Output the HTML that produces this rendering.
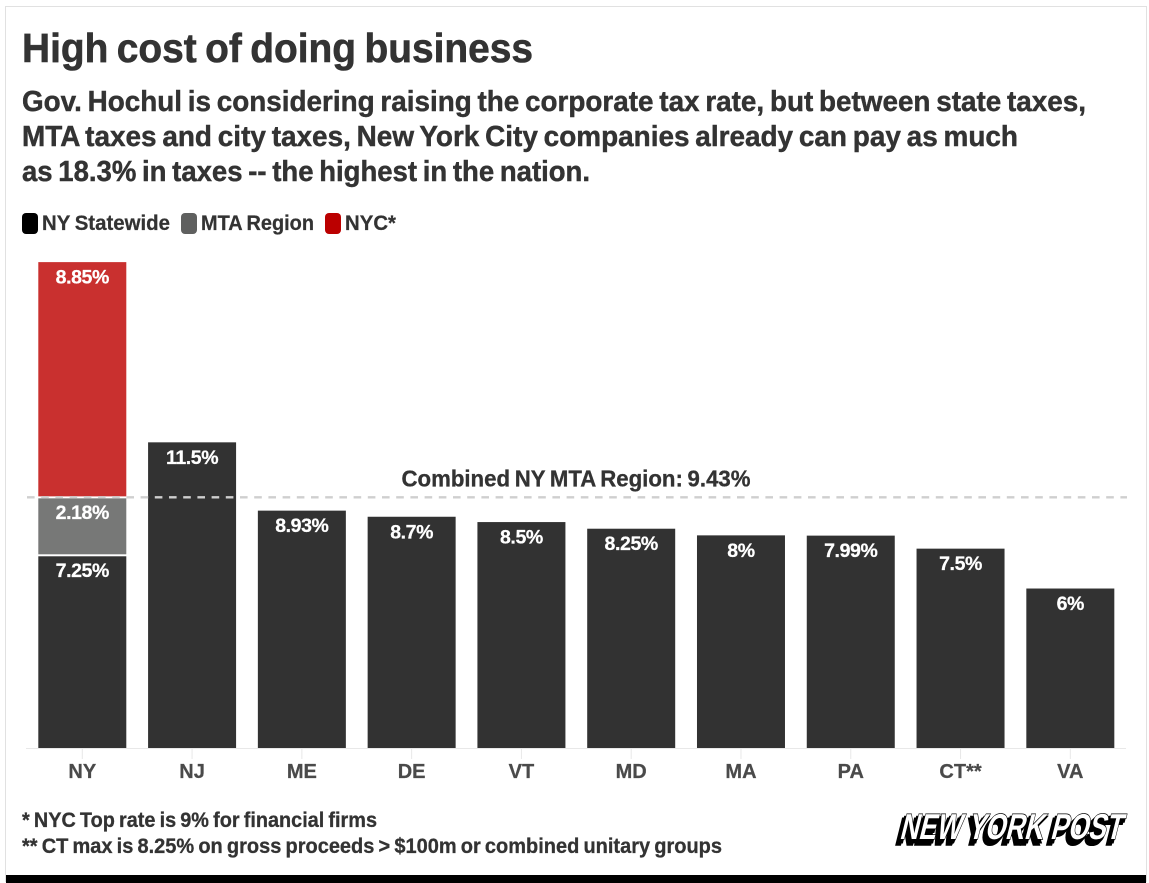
<!DOCTYPE html>
<html lang="en">
<head>
<meta charset="utf-8">
<title>High cost of doing business</title>
<style>
html,body{margin:0;padding:0;background:#fff}
body{width:1149px;height:883px;overflow:hidden;position:relative;font-family:"Liberation Sans",Arial,sans-serif}
svg{position:absolute;left:0;top:0;display:block}
text{font-family:"Liberation Sans",Arial,sans-serif;font-weight:700}
</style>
</head>
<body>
<svg id="chart" width="1149" height="883" viewBox="0 0 1149 883" xmlns="http://www.w3.org/2000/svg">
  <rect x="5.5" y="6.5" width="1141" height="875" fill="#fff" stroke="#e1e1e1"/>
  <rect x="6" y="875" width="1140" height="8" fill="#000"/>

  <text x="22" y="62" font-size="41" fill="#333" stroke="#333" stroke-width="0.6" word-spacing="-2.5" textLength="511" lengthAdjust="spacingAndGlyphs">High cost of doing business</text>
  <text x="22" y="111" font-size="28.5" fill="#333" stroke="#333" stroke-width="0.45" word-spacing="-2" textLength="1064" lengthAdjust="spacingAndGlyphs">Gov. Hochul is considering raising the corporate tax rate, but between state taxes,</text>
  <text x="22" y="146" font-size="28.5" fill="#333" stroke="#333" stroke-width="0.45" word-spacing="-2" textLength="996" lengthAdjust="spacingAndGlyphs">MTA taxes and city taxes, New York City companies already can pay as much</text>
  <text x="22" y="181" font-size="28.5" fill="#333" stroke="#333" stroke-width="0.45" word-spacing="-2" textLength="568" lengthAdjust="spacingAndGlyphs">as 18.3% in taxes -- the highest in the nation.</text>

  <g id="legend"></g>
  <g id="marks"></g>
  <g id="axis"></g>
  <g id="reference"></g>

  <text x="22" y="827" font-size="21.5" fill="#333" stroke="#333" stroke-width="0.3" word-spacing="-1.5" textLength="355" lengthAdjust="spacingAndGlyphs">* NYC Top rate is 9% for financial firms</text>
  <text x="22" y="853" font-size="21.5" fill="#333" stroke="#333" stroke-width="0.3" word-spacing="-1.5" textLength="700" lengthAdjust="spacingAndGlyphs">** CT max is 8.25% on gross proceeds &gt; $100m or combined unitary groups</text>

  <g>
    <text transform="translate(895,844) skewX(-14)" font-size="36" fill="#000" stroke="#000" stroke-width="3.4" textLength="222" lengthAdjust="spacingAndGlyphs">NEW YORK POST</text>
    <text transform="translate(897,842) skewX(-14)" font-size="36" fill="#000" stroke="#000" stroke-width="3" textLength="222" lengthAdjust="spacingAndGlyphs">NEW YORK POST</text>
    <text transform="translate(899,839) skewX(-14)" font-size="36" fill="#fff" stroke="#000" stroke-width="1.4" paint-order="stroke" textLength="222" lengthAdjust="spacingAndGlyphs">NEW YORK POST</text>
  </g>
</svg>
<script>
var categories = ['NY','NJ','ME','DE','VT','MD','MA','PA','CT**','VA'];
var statewide = [7.25,11.5,8.93,8.7,8.5,8.25,8,7.99,7.5,6];
var mtaRegion = [2.18,0,0,0,0,0,0,0,0,0];
var nyc = [8.85,0,0,0,0,0,0,0,0,0];
var statewideLabels = ['7.25%','11.5%','8.93%','8.7%','8.5%','8.25%','8%','7.99%','7.5%','6%'];
var mtaLabels = ['2.18%','','','','','','','','',''];
var nycLabels = ['8.85%','','','','','','','','',''];
var legendNames = ['NY Statewide','MTA Region','NYC*'];
var referenceValue = 9.43;
var referenceLabel = 'Combined NY MTA Region: 9.43%';

var NS = 'http://www.w3.org/2000/svg';
function yScale(v){ return 748 - v * 26.58; }
function xBand(i){ return 38.3 + i * 109.78; }
var BAR_W = 88;

function make(tag, attrs, parent, txt){
  var el = document.createElementNS(NS, tag);
  for (var k in attrs) el.setAttribute(k, attrs[k]);
  if (txt !== undefined) el.textContent = txt;
  parent.appendChild(el);
  return el;
}

var marks = document.getElementById('marks');
var axis = document.getElementById('axis');
var refGroup = document.getElementById('reference');
var legend = document.getElementById('legend');

// x-axis baseline
var baseline = make('line', {x1:26, x2:1126, y1:748.5, y2:748.5, stroke:'#e8e8e8', 'stroke-width':1}, axis);



function segment(i, bottom, value, label, fill, name, insetTop, insetBottom){
  if (!value) return;
  var top = yScale(bottom + value) + insetTop;
  var h = yScale(bottom) - insetBottom - top;
  var r = make('rect', {x:xBand(i), y:top, width:BAR_W, height:h, fill:fill}, marks);
  
  
  var t = make('text', {x:xBand(i)+BAR_W/2, y:top+21.5-insetTop, 'font-size':19.5, fill:'#fff', stroke:'#fff', 'stroke-width':0.25, 'text-anchor':'middle', 'letter-spacing':'-0.4'}, marks, label);
  
  
}

categories.forEach(function(c, i){
  var stacked = mtaRegion[i] ? 1 : 0;
  segment(i, 0, statewide[i], statewideLabels[i], '#323232', 'bar-statewide', stacked, 0);
  segment(i, statewide[i], mtaRegion[i], mtaLabels[i], '#777877', 'bar-mta', stacked, stacked);
  segment(i, statewide[i] + mtaRegion[i], nyc[i], nycLabels[i], '#c9302f', 'bar-nyc', 0, stacked);

  var cx = xBand(i) + BAR_W/2;
  var tick = make('line', {x1:cx, x2:cx, y1:749, y2:759, stroke:'#e8e8e8', 'stroke-width':1}, axis);
  
  
  var lab = make('text', {x:cx, y:778, 'font-size':20, fill:'#4a4a4a', stroke:'#4a4a4a', 'stroke-width':0.25, 'text-anchor':'middle'}, axis, c);
  
  
});

// reference line
var ry = yScale(referenceValue);
var refLine = make('line', {x1:27, x2:1127, y1:ry, y2:ry, stroke:'#cfcfcf', 'stroke-width':2.4, 'stroke-dasharray':'7.6 6.6'}, refGroup);


var refText = make('text', {x:576, y:ry-11, 'font-size':23, fill:'#333', stroke:'#333', 'stroke-width':0.3, 'word-spacing':-1.5, 'text-anchor':'middle', textLength:349, lengthAdjust:'spacingAndGlyphs'}, refGroup, referenceLabel);



// legend
var legendColors = ['#000000','#5f605f','#bb0000'];
var legendX = [22, 181, 325];
var legendTextX = [42, 201, 345];
var legendTextWidths = [128, 113, 51];
legendNames.forEach(function(n, i){
  var s = make('rect', {x:legendX[i], y:213, width:16, height:21, rx:4, fill:legendColors[i]}, legend);
  
  
  var t = make('text', {x:legendTextX[i], y:230, 'font-size':21, fill:'#333', stroke:'#333', 'stroke-width':0.25, 'word-spacing':-1, textLength:legendTextWidths[i], lengthAdjust:'spacingAndGlyphs'}, legend, n);
  
  
});
</script>
</body>
</html>
